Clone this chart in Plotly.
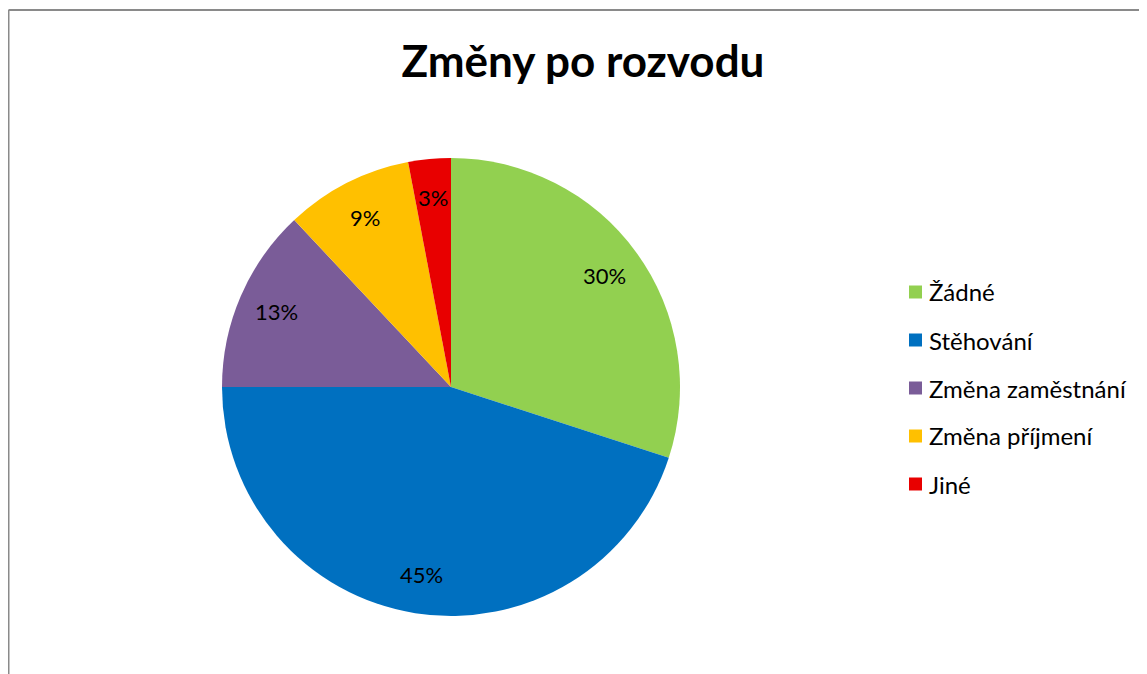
import math
import plotly.graph_objects as go

labels = ["Žádné", "Stěhování", "Změna zaměstnání", "Změna příjmení", "Jiné"]
values = [30, 45, 13, 9, 3]
colors = ["#92D050", "#0070C0", "#7A5C98", "#FFC000", "#E80000"]
title_text = "Změny po rozvodu"

OFF = 8  # page body margin
W, H = 1147 - OFF, 674 - OFF
cx, cy, R = 451 - OFF, 387 - OFF, 229  # pie centre / radius in px
FONT = "Lato, Open Sans, sans-serif"

fig = go.Figure()
fig.add_trace(go.Pie(
    labels=labels, values=values, sort=False, direction="clockwise", rotation=0,
    marker=dict(colors=colors, line=dict(width=0)),
    textinfo="none", hoverinfo="label+percent", showlegend=False,
    domain=dict(x=[(cx - R) / W, (cx + R) / W], y=[(H - cy - R) / H, (H - cy + R) / H]),
))

annotations = []
total = sum(values)
cum = 0
for lab, v in zip(labels, values):
    mid = (cum + v / 2) / total * 2 * math.pi
    cum += v
    r = 0.83 * R
    px = cx + r * math.sin(mid)
    py = cy - r * math.cos(mid)
    annotations.append(dict(
        x=px / W, y=1 - py / H, xref="paper", yref="paper", showarrow=False,
        text=f"{round(v / total * 100)}%", font=dict(size=22, color="#000", family=FONT),
        xanchor="center", yanchor="middle"))

bx, by = 7.5 - OFF + 1, 10 - OFF
shapes = [
    dict(type="line", xref="paper", yref="paper", x0=bx / W, x1=1, y0=1 - by / H, y1=1 - by / H,
         line=dict(color="#8a8a8a", width=2)),
    dict(type="line", xref="paper", yref="paper", x0=bx / W, x1=bx / W, y0=0, y1=1 - by / H,
         line=dict(color="#8a8a8a", width=2)),
]

lx, ly0, dy = 909 - OFF, 292 - OFF, 48
for i, (lab, col) in enumerate(zip(labels, colors)):
    y = ly0 + i * dy
    shapes.append(dict(type="rect", xref="paper", yref="paper",
                       x0=lx / W, x1=(lx + 13) / W, y0=1 - (y + 6.5) / H, y1=1 - (y - 6.5) / H,
                       fillcolor=col, line=dict(width=0)))
    annotations.append(dict(x=(lx + 18) / W, y=1 - y / H, xref="paper", yref="paper",
                            showarrow=False, text=lab, xanchor="left", yanchor="middle",
                            font=dict(size=24, color="#000", family=FONT)))

fig.update_layout(
    width=W, height=H, margin=dict(l=0, r=0, t=0, b=0),
    paper_bgcolor="white", plot_bgcolor="white",
    title=dict(text=f"<b>{title_text}</b>", x=(583 - OFF) / W, xanchor="center",
               y=1 - (62 - OFF) / H, yanchor="middle", yref="container",
               font=dict(size=44, color="#000", family=FONT)),
    annotations=annotations, shapes=shapes,
)

fig.write_html("out.html")
